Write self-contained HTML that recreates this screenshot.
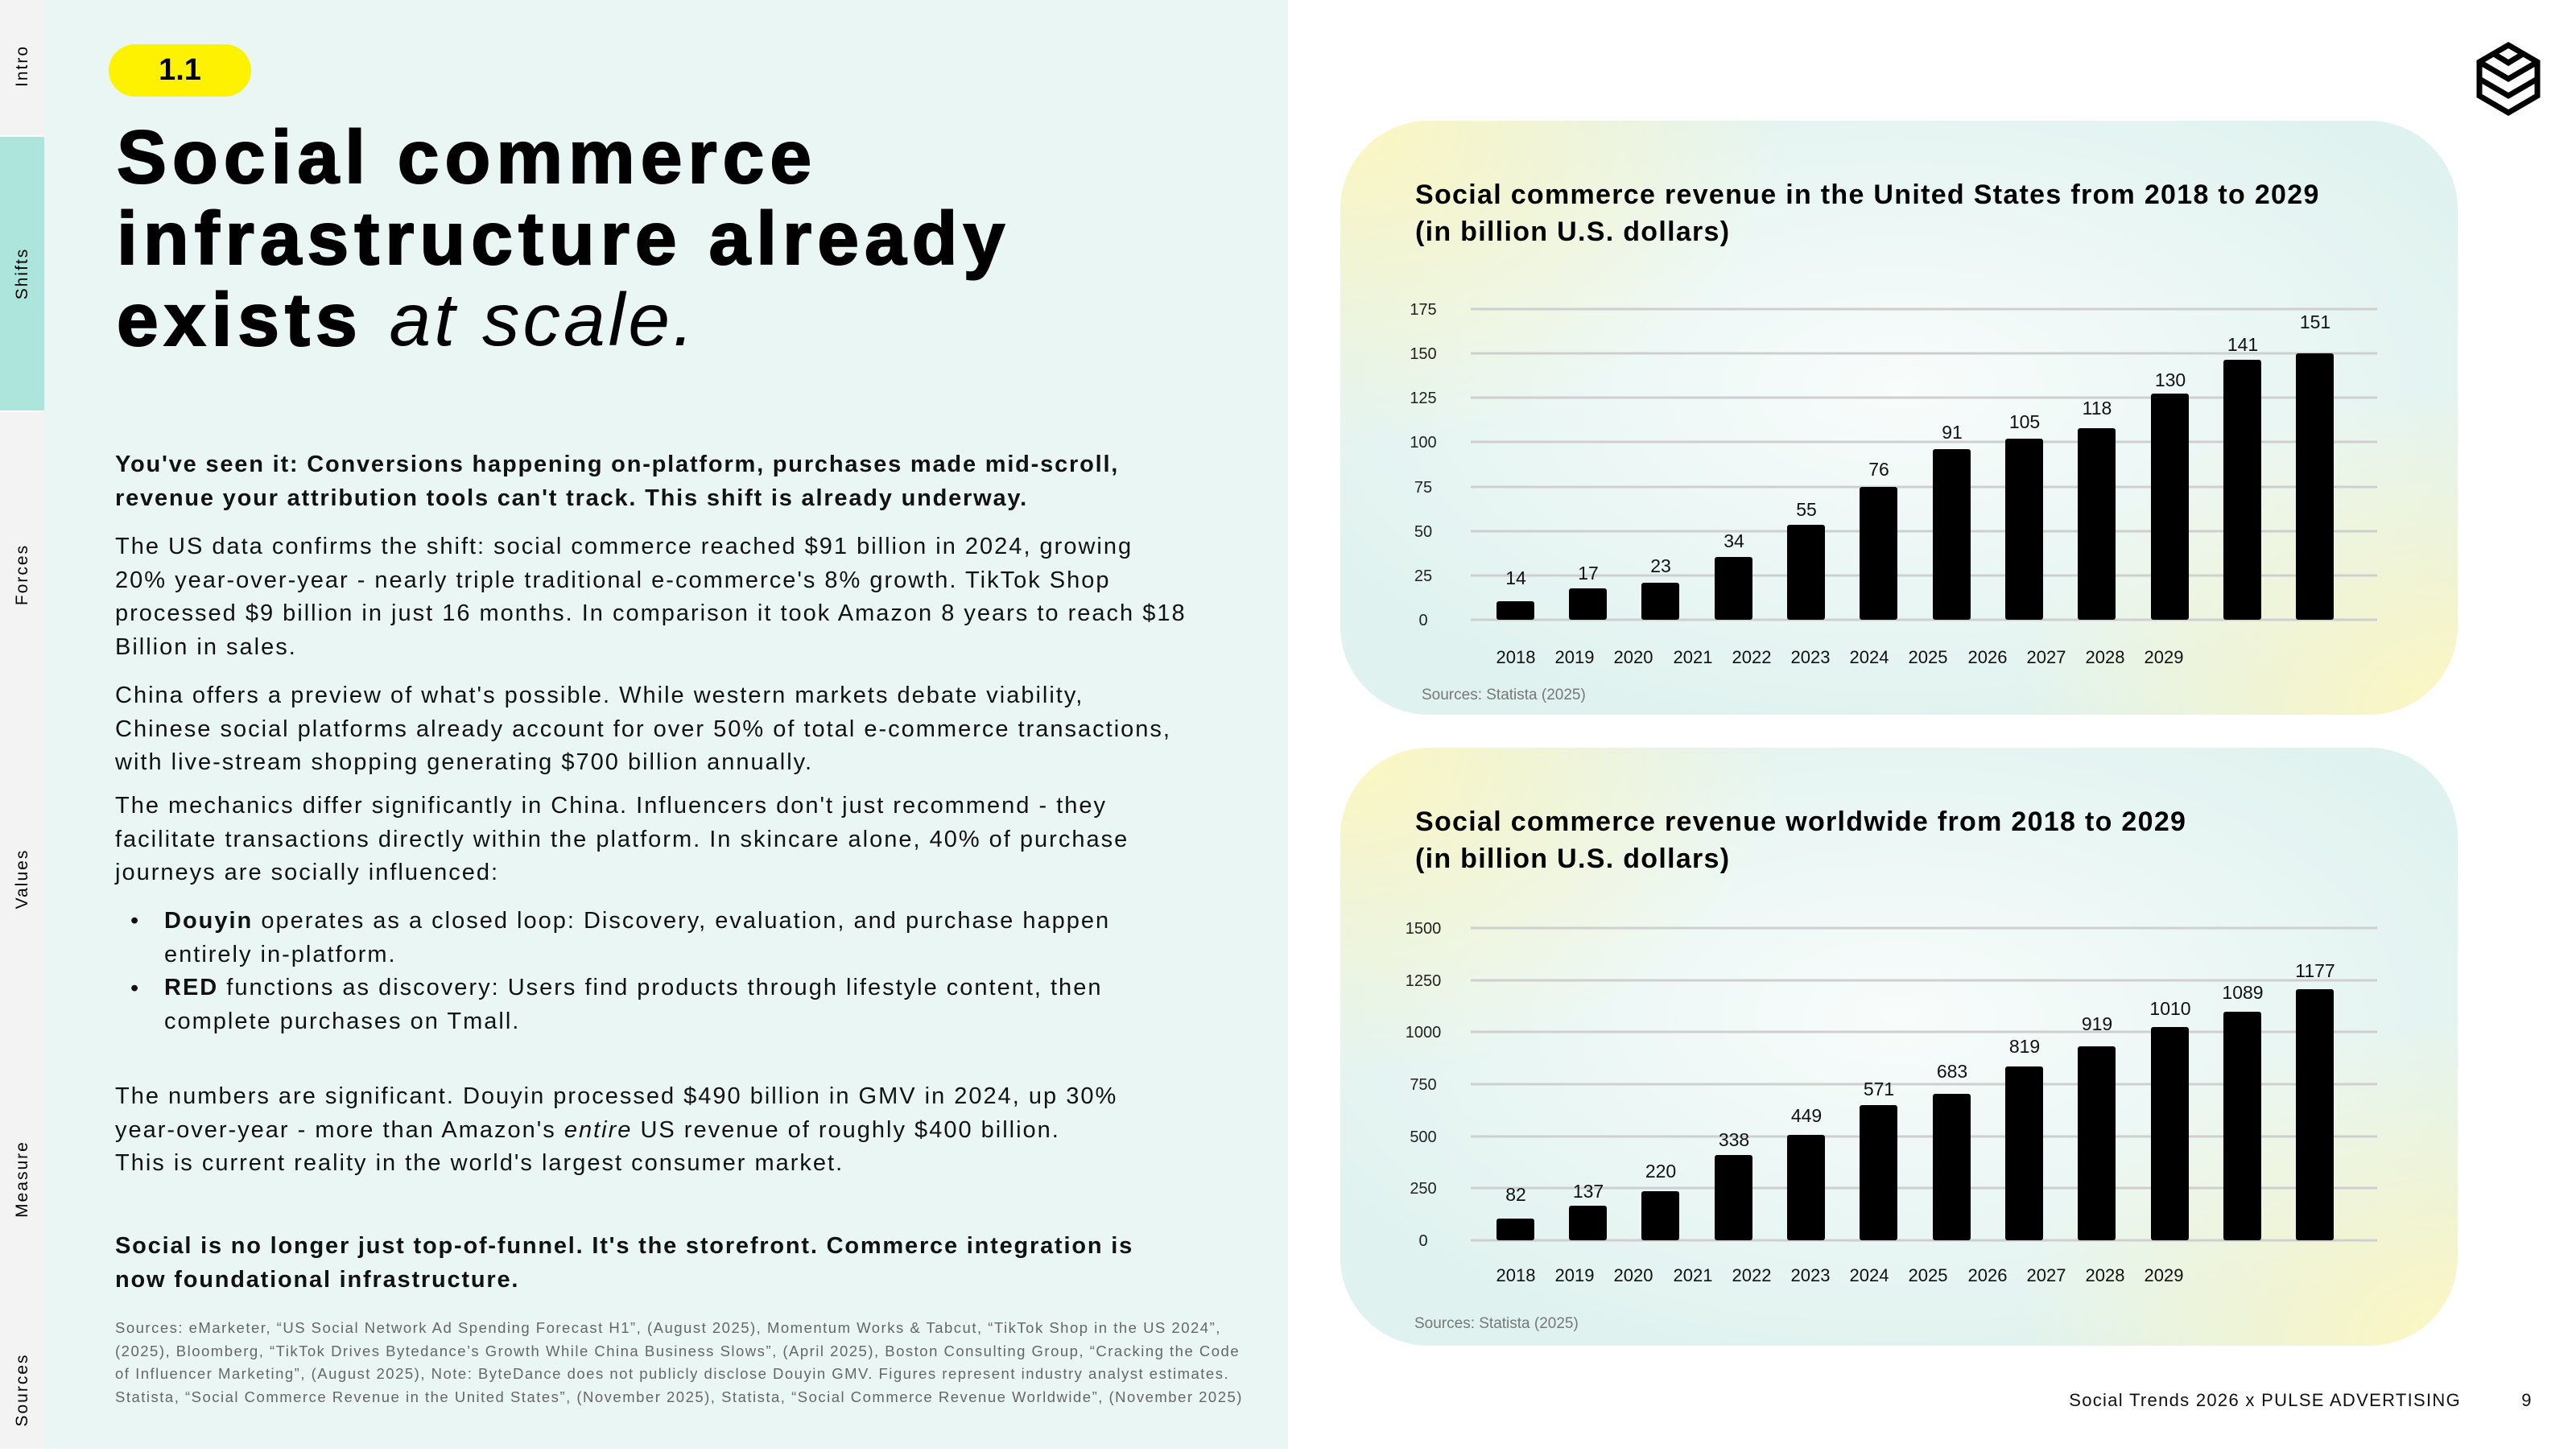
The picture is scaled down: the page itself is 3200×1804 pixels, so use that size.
<!DOCTYPE html>
<html><head><meta charset="utf-8"><style>
body{margin:0;width:3200px;height:1800px;position:relative;background:#fff;font-family:"Liberation Sans",sans-serif;color:#000;overflow:hidden}
.abs{position:absolute}
.side{left:0;top:0;width:55px;height:1800px;background:#f3f3f3}
.lp{left:55px;top:0;width:1545px;height:1800px;background:#eaf6f3}
.tab{position:absolute;left:0;width:55px;font-size:21px;letter-spacing:2px}
.tab span{position:absolute;left:50%;top:50%;transform:translate(-50%,-50%) rotate(-90deg);white-space:nowrap}
.p{position:absolute;left:143px;font-size:29px;line-height:41.5px;white-space:nowrap;color:#111;letter-spacing:2px}
.b{font-weight:bold}
.card{position:absolute;left:1665px;width:1388px;border-radius:110px;
background:radial-gradient(ellipse 40% 55% at 0% 0%,#fdf6c0 0%,rgba(253,246,192,0) 100%),radial-gradient(ellipse 40% 55% at 100% 100%,#fdf6c0 0%,rgba(253,246,192,0) 100%),radial-gradient(ellipse 60% 60% at 50% 45%,#f8fcfb 0%,#dff2ef 100%)}
</style></head><body>
<div class="abs side"></div>
<div class="abs" style="left:0;top:170px;width:55px;height:340px;background:#ade5dd"></div>
<div class="abs" style="left:0;top:168px;width:55px;height:2px;background:#fff"></div>
<div class="abs" style="left:0;top:510px;width:55px;height:2px;background:#fff"></div>
<div class="tab" style="top:0;height:164px"><span>Intro</span></div>
<div class="tab" style="top:170px;height:340px"><span>Shifts</span></div>
<div class="tab" style="top:530px;height:368px"><span>Forces</span></div>
<div class="tab" style="top:900px;height:384px"><span>Values</span></div>
<div class="tab" style="top:1280px;height:370px"><span>Measure</span></div>
<div class="tab" style="top:1650px;height:154px"><span>Sources</span></div>
<div class="abs lp"></div>

<div class="abs" style="left:135px;top:55px;width:177px;height:65px;border-radius:33px;background:#fff200;font-size:38px;font-weight:bold;line-height:65px;text-align:center">1.1</div>
<div class="abs b" style="left:145px;top:145px;font-size:93px;line-height:101px;white-space:nowrap;letter-spacing:7px;-webkit-text-stroke:2px #000">Social commerce<br>infrastructure already<br>exists <span style="font-weight:normal;font-style:italic;-webkit-text-stroke:0;letter-spacing:4px">at scale.</span></div>

<div class="p b" style="top:557px;letter-spacing:1.8px">You've seen it: Conversions happening on-platform, purchases made mid-scroll,<br>revenue your attribution tools can't track. This shift is already underway.</div>
<div class="p" style="top:659px">The US data confirms the shift: social commerce reached $91 billion in 2024, growing<br>20% year-over-year - nearly triple traditional e-commerce's 8% growth. TikTok Shop<br>processed $9 billion in just 16 months. In comparison it took Amazon 8 years to reach $18<br>Billion in sales.</div>
<div class="p" style="top:844px">China offers a preview of what's possible. While western markets debate viability,<br>Chinese social platforms already account for over 50% of total e-commerce transactions,<br>with live-stream shopping generating $700 billion annually.</div>
<div class="p" style="top:981px">The mechanics differ significantly in China. Influencers don't just recommend - they<br>facilitate transactions directly within the platform. In skincare alone, 40% of purchase<br>journeys are socially influenced:</div>
<div class="p" style="top:1124px;left:162px">•</div>
<div class="p" style="top:1208px;left:162px">•</div>
<div class="p" style="top:1124px;left:204px"><b>Douyin</b> operates as a closed loop: Discovery, evaluation, and purchase happen<br>entirely in-platform.<br><b>RED</b> functions as discovery: Users find products through lifestyle content, then<br>complete purchases on Tmall.</div>
<div class="p" style="top:1342px">The numbers are significant. Douyin processed $490 billion in GMV in 2024, up 30%<br>year-over-year - more than Amazon's <i>entire</i> US revenue of roughly $400 billion.<br>This is current reality in the world's largest consumer market.</div>
<div class="p b" style="top:1528px;letter-spacing:1.8px">Social is no longer just top-of-funnel. It's the storefront. Commerce integration is<br>now foundational infrastructure.</div>
<div class="p" style="top:1636px;font-size:18.5px;line-height:28.5px;color:#666;letter-spacing:1.5px">Sources: eMarketer, “US Social Network Ad Spending Forecast H1”, (August 2025), Momentum Works &amp; Tabcut, “TikTok Shop in the US 2024”,<br>(2025), Bloomberg, “TikTok Drives Bytedance’s Growth While China Business Slows”, (April 2025), Boston Consulting Group, “Cracking the Code<br>of Influencer Marketing”, (August 2025), Note: ByteDance does not publicly disclose Douyin GMV. Figures represent industry analyst estimates.<br>Statista, “Social Commerce Revenue in the United States”, (November 2025), Statista, “Social Commerce Revenue Worldwide”, (November 2025)</div>

<div class="card" style="top:150px;height:738px"></div>
<div class="card" style="top:929px;height:743px"></div>

<svg class="abs" style="left:0;top:0" width="3200" height="1800" xmlns="http://www.w3.org/2000/svg" font-family="Liberation Sans, sans-serif">
<g fill="none" stroke="#000" stroke-width="7" stroke-linejoin="miter">
<polygon points="3116,56 3152,77 3152,119 3116,140 3080,119 3080,77"/>
<polyline points="3080,77 3116,98 3152,77"/>
<polyline points="3080,98 3116,119 3152,98"/>
<polyline points="3098,67 3116,78 3134,67"/>
</g>
<g font-weight="bold" font-size="34" letter-spacing="1.3">
<text x="1758" y="253">Social commerce revenue in the United States from 2018 to 2029</text>
<text x="1758" y="299">(in billion U.S. dollars)</text>
<text x="1758" y="1032">Social commerce revenue worldwide from 2018 to 2029</text>
<text x="1758" y="1078">(in billion U.S. dollars)</text>
</g>
<g stroke="#cfcfcf" stroke-width="3">
<line x1="1827" x2="2953" y1="384" y2="384"/><line x1="1827" x2="2953" y1="439" y2="439"/><line x1="1827" x2="2953" y1="494" y2="494"/><line x1="1827" x2="2953" y1="549" y2="549"/><line x1="1827" x2="2953" y1="605" y2="605"/><line x1="1827" x2="2953" y1="660" y2="660"/><line x1="1827" x2="2953" y1="715" y2="715"/><line x1="1827" x2="2953" y1="770" y2="770"/>
<line x1="1827" x2="2953" y1="1153" y2="1153"/><line x1="1827" x2="2953" y1="1218" y2="1218"/><line x1="1827" x2="2953" y1="1282" y2="1282"/><line x1="1827" x2="2953" y1="1347" y2="1347"/><line x1="1827" x2="2953" y1="1412" y2="1412"/><line x1="1827" x2="2953" y1="1476" y2="1476"/><line x1="1827" x2="2953" y1="1541" y2="1541"/>
</g>
<g font-size="20" text-anchor="middle" fill="#222">
<text x="1768" y="391">175</text><text x="1768" y="446">150</text><text x="1768" y="501">125</text><text x="1768" y="556">100</text><text x="1768" y="612">75</text><text x="1768" y="667">50</text><text x="1768" y="722">25</text><text x="1768" y="777">0</text>
<text x="1768" y="1160">1500</text><text x="1768" y="1225">1250</text><text x="1768" y="1289">1000</text><text x="1768" y="1354">750</text><text x="1768" y="1419">500</text><text x="1768" y="1483">250</text><text x="1768" y="1548">0</text>
</g>
<g fill="#000">
<rect x="1859" y="747" width="47" height="23" rx="3"/><rect x="1949" y="731" width="47" height="39" rx="3"/><rect x="2039" y="724" width="47" height="46" rx="3"/><rect x="2130" y="692" width="47" height="78" rx="3"/><rect x="2220" y="652" width="47" height="118" rx="3"/><rect x="2310" y="605" width="47" height="165" rx="3"/><rect x="2401" y="558" width="47" height="212" rx="3"/><rect x="2491" y="545" width="47" height="225" rx="3"/><rect x="2581" y="532" width="47" height="238" rx="3"/><rect x="2672" y="489" width="47" height="281" rx="3"/><rect x="2762" y="447" width="47" height="323" rx="3"/><rect x="2852" y="439" width="47" height="331" rx="3"/>
<rect x="1859" y="1514" width="47" height="27" rx="3"/><rect x="1949" y="1498" width="47" height="43" rx="3"/><rect x="2039" y="1480" width="47" height="61" rx="3"/><rect x="2130" y="1435" width="47" height="106" rx="3"/><rect x="2220" y="1410" width="47" height="131" rx="3"/><rect x="2310" y="1373" width="47" height="168" rx="3"/><rect x="2401" y="1359" width="47" height="182" rx="3"/><rect x="2491" y="1325" width="47" height="216" rx="3"/><rect x="2581" y="1300" width="47" height="241" rx="3"/><rect x="2672" y="1276" width="47" height="265" rx="3"/><rect x="2762" y="1257" width="47" height="284" rx="3"/><rect x="2852" y="1229" width="47" height="312" rx="3"/>
</g>
<g font-size="23" text-anchor="middle" fill="#111">
<text x="1883" y="726">14</text><text x="1973" y="720">17</text><text x="2063" y="711">23</text><text x="2154" y="680">34</text><text x="2244" y="641">55</text><text x="2334" y="591">76</text><text x="2425" y="545">91</text><text x="2515" y="532">105</text><text x="2605" y="515">118</text><text x="2696" y="480">130</text><text x="2786" y="436">141</text><text x="2876" y="408">151</text>
<text x="1883" y="1492">82</text><text x="1973" y="1488">137</text><text x="2063" y="1463">220</text><text x="2154" y="1424">338</text><text x="2244" y="1394">449</text><text x="2334" y="1361">571</text><text x="2425" y="1339">683</text><text x="2515" y="1308">819</text><text x="2605" y="1280">919</text><text x="2696" y="1261">1010</text><text x="2786" y="1241">1089</text><text x="2876" y="1214">1177</text>
</g>
<g font-size="22" text-anchor="middle" fill="#111">
<text x="1883" y="824">2018</text><text x="1956" y="824">2019</text><text x="2029" y="824">2020</text><text x="2103" y="824">2021</text><text x="2176" y="824">2022</text><text x="2249" y="824">2023</text><text x="2322" y="824">2024</text><text x="2395" y="824">2025</text><text x="2469" y="824">2026</text><text x="2542" y="824">2027</text><text x="2615" y="824">2028</text><text x="2688" y="824">2029</text>
<text x="1883" y="1592">2018</text><text x="1956" y="1592">2019</text><text x="2029" y="1592">2020</text><text x="2103" y="1592">2021</text><text x="2176" y="1592">2022</text><text x="2249" y="1592">2023</text><text x="2322" y="1592">2024</text><text x="2395" y="1592">2025</text><text x="2469" y="1592">2026</text><text x="2542" y="1592">2027</text><text x="2615" y="1592">2028</text><text x="2688" y="1592">2029</text>
</g>
<g font-size="19" fill="#777">
<text x="1766" y="869">Sources: Statista (2025)</text>
<text x="1757" y="1650">Sources: Statista (2025)</text>
</g>
<g font-size="22" fill="#111" letter-spacing="1.3">
<text x="3057" y="1747" text-anchor="end">Social Trends 2026 x PULSE ADVERTISING</text>
<text x="3139" y="1747" text-anchor="middle">9</text>
</g>
</svg>
</body></html>
